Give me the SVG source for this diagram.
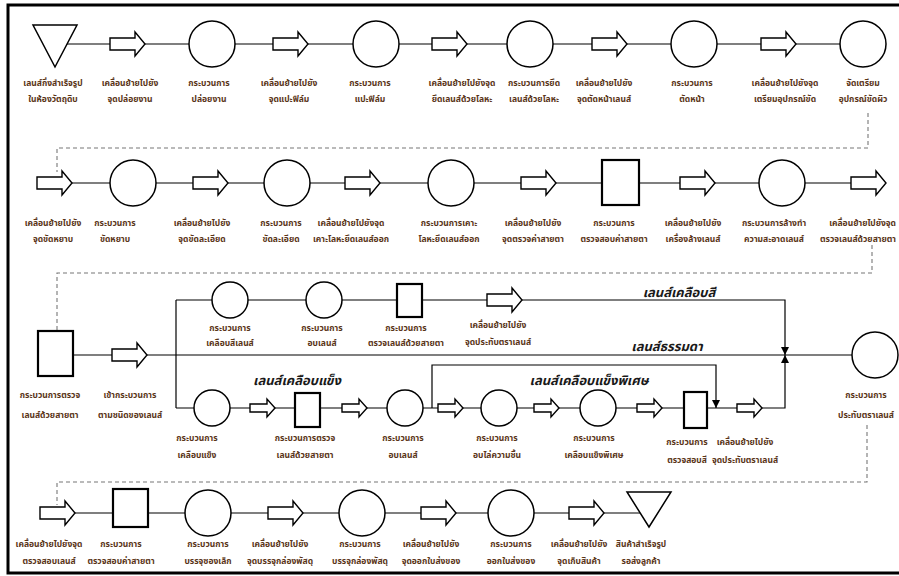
<svg xmlns="http://www.w3.org/2000/svg" xmlns:xlink="http://www.w3.org/1999/xlink" width="899" height="576" viewBox="0 0 899 576">
<style>
.c{fill:#fff;stroke:#000;stroke-width:1.5}
.r{fill:#fff;stroke:#000;stroke-width:2.2}
.a{fill:#fff;stroke:#000;stroke-width:1.4}
.ln{fill:none;stroke:#000;stroke-width:1.2}
.d{fill:none;stroke:#777;stroke-width:1.1;stroke-dasharray:4 3}
text{font-family:"Noto Sans Thai","Loma","Garuda","Tahoma","DejaVu Sans",sans-serif;font-size:8.5px;font-weight:bold;fill:#5a3518;text-anchor:middle}
.b{font-size:13px;font-style:italic;fill:#1a1a1a}
</style>
<defs>
<path id="arr" d="M0,-6H25V-12L35,0L25,12V6H0Z"/>
<path id="arrs" d="M0,-4H17V-9L25,0L17,9V4H0Z"/>
<marker id="ah" viewBox="0 0 10 10" refX="10" refY="5" markerWidth="8" markerHeight="8" markerUnits="userSpaceOnUse" orient="auto"><path d="M0,0L10,5L0,10Z" fill="#000"/></marker>
</defs>
<rect width="899" height="576" fill="#fff"/>
<path d="M905,5H8V573H905" fill="none" stroke="#000" stroke-width="3"/>
<g id="connectors">
<path class="ln" d="M66,44H841"/>
<path class="ln" d="M72,183H851"/>
<path class="ln" d="M73,355H852"/>
<path class="ln" d="M176,300V408"/>
<path class="ln" d="M176,300H785V355" marker-end="url(#ah)"/>
<path class="ln" d="M176,408H785V355" marker-end="url(#ah)"/>
<path class="ln" d="M432,408V365H716V408" marker-end="url(#ah)"/>
<path class="ln" d="M75,513H640"/>
<path class="d" d="M868,113V148H57V172"/>
<path class="d" d="M872,245V273H57V330"/>
<path class="d" d="M867,425V482H57V505"/>
</g>
<!-- Row 1 -->
<g id="n1"><polygon class="c" points="33,25 77,25 55,67"/><text x="53" y="86">เลนส์กึ่งสำเร็จรูป</text><text x="53" y="102">ในห้องวัตถุดิบ</text></g>
<g id="n2"><use href="#arr" x="110" y="44" class="a"/><text x="130" y="86">เคลื่อนย้ายไปยัง</text><text x="130" y="102">จุดปล่อยงาน</text></g>
<g id="n3"><circle class="c" cx="212" cy="44" r="23"/><text x="209" y="86">กระบวนการ</text><text x="209" y="102">ปล่อยงาน</text></g>
<g id="n4"><use href="#arr" x="273" y="44" class="a"/><text x="289" y="86">เคลื่อนย้ายไปยัง</text><text x="289" y="102">จุดแปะฟิล์ม</text></g>
<g id="n5"><circle class="c" cx="376" cy="44" r="23"/><text x="370" y="86">กระบวนการ</text><text x="370" y="102">แปะฟิล์ม</text></g>
<g id="n6"><use href="#arr" x="432" y="44" class="a"/><text x="462" y="86">เคลื่อนย้ายไปยังจุด</text><text x="462" y="102">ยึดเลนส์ด้วยโลหะ</text></g>
<g id="n7"><circle class="c" cx="530" cy="44" r="23"/><text x="534" y="86">กระบวนการยึด</text><text x="534" y="102">เลนส์ด้วยโลหะ</text></g>
<g id="n8"><use href="#arr" x="592" y="44" class="a"/><text x="604" y="86">เคลื่อนย้ายไปยัง</text><text x="604" y="102">จุดตัดหน้าเลนส์</text></g>
<g id="n9"><circle class="c" cx="694" cy="44" r="23"/><text x="692" y="86">กระบวนการ</text><text x="692" y="102">ตัดหน้า</text></g>
<g id="n10"><use href="#arr" x="761" y="44" class="a"/><text x="785" y="86">เคลื่อนย้ายไปยังจุด</text><text x="785" y="102">เตรียมอุปกรณ์ขัด</text></g>
<g id="n11"><circle class="c" cx="863" cy="44" r="23"/><text x="863" y="86">จัดเตรียม</text><text x="863" y="102">อุปกรณ์ขัดผิว</text></g>
<!-- Row 2 -->
<g id="n12"><use href="#arr" x="37" y="183" class="a"/><text x="53" y="226">เคลื่อนย้ายไปยัง</text><text x="53" y="242">จุดขัดหยาบ</text></g>
<g id="n13"><circle class="c" cx="133" cy="183" r="23"/><text x="115" y="226">กระบวนการ</text><text x="115" y="242">ขัดหยาบ</text></g>
<g id="n14"><use href="#arr" x="193" y="183" class="a"/><text x="202" y="226">เคลื่อนย้ายไปยัง</text><text x="202" y="242">จุดขัดละเอียด</text></g>
<g id="n15"><circle class="c" cx="287" cy="183" r="23"/><text x="281" y="226">กระบวนการ</text><text x="281" y="242">ขัดละเอียด</text></g>
<g id="n16"><use href="#arr" x="345" y="183" class="a"/><text x="351" y="226">เคลื่อนย้ายไปยังจุด</text><text x="351" y="242">เคาะโลหะยึดเลนส์ออก</text></g>
<g id="n17"><circle class="c" cx="451" cy="183" r="23"/><text x="449" y="226">กระบวนการเคาะ</text><text x="449" y="242">โลหะยึดเลนส์ออก</text></g>
<g id="n18"><use href="#arr" x="521" y="183" class="a"/><text x="533" y="226">เคลื่อนย้ายไปยัง</text><text x="533" y="242">จุดตรวจค่าสายตา</text></g>
<g id="n19"><rect class="r" x="602" y="160" width="37" height="45"/><text x="614" y="226">กระบวนการ</text><text x="614" y="242">ตรวจสอบค่าสายตา</text></g>
<g id="n20"><use href="#arr" x="680" y="183" class="a"/><text x="693" y="226">เคลื่อนย้ายไปยัง</text><text x="693" y="242">เครื่องล้างเลนส์</text></g>
<g id="n21"><circle class="c" cx="782" cy="183" r="23"/><text x="774" y="226">กระบวนการล้างทำ</text><text x="774" y="242">ความสะอาดเลนส์</text></g>
<g id="n22"><use href="#arr" x="851" y="183" class="a"/><text x="896" y="226" style="text-anchor:end">เคลื่อนย้ายไปยังจุด</text><text x="896" y="242" style="text-anchor:end">ตรวจเลนส์ด้วยสายตา</text></g>
<!-- Row 3 -->
<g id="n23"><rect class="r" x="38" y="331" width="35" height="45"/><text x="50" y="398">กระบวนการตรวจ</text><text x="50" y="418">เลนส์ด้วยสายตา</text></g>
<g id="n24"><use href="#arr" x="112" y="355" class="a"/><text x="130" y="398">เข้ากระบวนการ</text><text x="130" y="418">ตามชนิดของเลนส์</text></g>
<g id="n25"><circle class="c" cx="230" cy="300" r="18"/><text x="230" y="331">กระบวนการ</text><text x="230" y="346">เคลือบสีเลนส์</text></g>
<g id="n26"><circle class="c" cx="324" cy="300" r="18"/><text x="322" y="331">กระบวนการ</text><text x="322" y="346">อบเลนส์</text></g>
<g id="n27"><rect class="r" x="397" y="284" width="25" height="33"/><text x="406" y="331">กระบวนการ</text><text x="406" y="346">ตรวจเลนส์ด้วยสายตา</text></g>
<g id="n28"><use href="#arr" x="487" y="300" class="a"/><text x="498" y="328">เคลื่อนย้ายไปยัง</text><text x="498" y="345">จุดประทับตราเลนส์</text></g>
<g id="n29"><circle class="c" cx="212" cy="408" r="18"/><text x="197" y="441">กระบวนการ</text><text x="197" y="458">เคลือบแข็ง</text></g>
<g id="n30"><use href="#arrs" x="250" y="408" class="a"/></g>
<g id="n31"><rect class="r" x="295" y="393" width="25" height="34"/><text x="305" y="441">กระบวนการตรวจ</text><text x="305" y="458">เลนส์ด้วยสายตา</text></g>
<g id="n32"><use href="#arrs" x="342" y="408" class="a"/></g>
<g id="n33"><circle class="c" cx="405" cy="408" r="18"/><text x="403" y="441">กระบวนการ</text><text x="403" y="458">อบเลนส์</text></g>
<g id="n34"><use href="#arrs" x="438" y="408" class="a"/></g>
<g id="n35"><circle class="c" cx="499" cy="408" r="18"/><text x="497" y="441">กระบวนการ</text><text x="497" y="458">อบไล่ความชื้น</text></g>
<g id="n36"><use href="#arrs" x="534" y="408" class="a"/></g>
<g id="n37"><circle class="c" cx="598" cy="408" r="18"/><text x="594" y="441">กระบวนการ</text><text x="594" y="458">เคลือบแข็งพิเศษ</text></g>
<g id="n38"><use href="#arrs" x="637" y="408" class="a"/></g>
<g id="n39"><rect class="r" x="684" y="392" width="23" height="36"/><text x="687" y="445">กระบวนการ</text><text x="687" y="463">ตรวจสอบสี</text></g>
<g id="n40"><use href="#arrs" x="737" y="408" class="a"/><text x="745" y="445">เคลื่อนย้ายไปยัง</text><text x="745" y="463">จุดประทับตราเลนส์</text></g>
<g id="n41"><circle class="c" cx="875" cy="355" r="23"/><text x="866" y="398">กระบวนการ</text><text x="866" y="418">ประทับตราเลนส์</text></g>
<g id="branch-labels">
<text class="b" x="679" y="297">เลนส์เคลือบสี</text>
<text class="b" x="667" y="351">เลนส์ธรรมดา</text>
<text class="b" x="297" y="385">เลนส์เคลือบแข็ง</text>
<text class="b" x="589" y="385">เลนส์เคลือบแข็งพิเศษ</text>
</g>
<!-- Row 4 -->
<g id="n42"><use href="#arr" x="40" y="513" class="a"/><text x="49" y="547">เคลื่อนย้ายไปยังจุด</text><text x="49" y="564">ตรวจสอบเลนส์</text></g>
<g id="n43"><rect class="r" x="113" y="489" width="35" height="38"/><text x="121" y="547">กระบวนการ</text><text x="121" y="564">ตรวจสอบค่าสายตา</text></g>
<g id="n44"><circle class="c" cx="208" cy="513" r="23"/><text x="208" y="547">กระบวนการ</text><text x="208" y="564">บรรจุซองเล็ก</text></g>
<g id="n45"><use href="#arr" x="268" y="513" class="a"/><text x="280" y="547">เคลื่อนย้ายไปยัง</text><text x="280" y="564">จุดบรรจุกล่องพัสดุ</text></g>
<g id="n46"><circle class="c" cx="362" cy="513" r="23"/><text x="360" y="547">กระบวนการ</text><text x="360" y="564">บรรจุกล่องพัสดุ</text></g>
<g id="n47"><use href="#arr" x="421" y="513" class="a"/><text x="431" y="547">เคลื่อนย้ายไปยัง</text><text x="431" y="564">จุดออกใบส่งของ</text></g>
<g id="n48"><circle class="c" cx="511" cy="513" r="23"/><text x="511" y="547">กระบวนการ</text><text x="511" y="564">ออกใบส่งของ</text></g>
<g id="n49"><use href="#arr" x="569" y="513" class="a"/><text x="579" y="547">เคลื่อนย้ายไปยัง</text><text x="579" y="564">จุดเก็บสินค้า</text></g>
<g id="n50"><polygon class="c" points="627,492 671,492 649,527"/><text x="641" y="547">สินค้าสำเร็จรูป</text><text x="641" y="564">รอส่งลูกค้า</text></g>
</svg>
